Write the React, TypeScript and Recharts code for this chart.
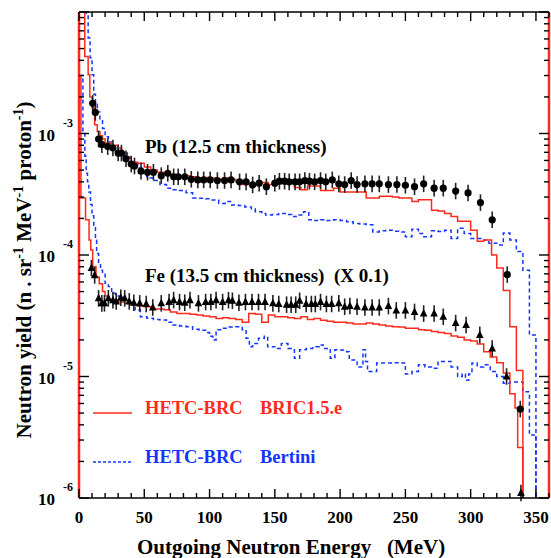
import { ComposedChart, Line, Scatter, XAxis, YAxis, ErrorBar, ReferenceLine } from 'recharts'

const RED = '#ff2a1c'
const BLUE = '#1434ff'
const FONT = '"Liberation Serif", "Times New Roman", serif'

// axis ticks
const xTicks = [0, 10, 20, 30, 40, 50, 60, 70, 80, 90, 100, 110, 120, 130, 140, 150, 160, 170, 180, 190,
  200, 210, 220, 230, 240, 250, 260, 270, 280, 290, 300, 310, 320, 330, 340, 350, 360]
const yTicks = [
  1e-6, 2e-6, 3e-6, 4e-6, 5e-6, 6e-6, 7e-6, 8e-6, 9e-6,
  1e-5, 2e-5, 3e-5, 4e-5, 5e-5, 6e-5, 7e-5, 8e-5, 9e-5,
  1e-4, 2e-4, 3e-4, 4e-4, 5e-4, 6e-4, 7e-4, 8e-4, 9e-4,
  1e-3, 2e-3, 3e-3, 4e-3, 5e-3, 6e-3, 7e-3, 8e-3, 9e-3,
  1e-2,
]

// Pb measured (circles)
const pbE = [10.5, 12.5, 15, 17.5, 22, 26, 30, 32.5, 36, 40, 42.5, 47.5, 52.5, 57, 63, 68, 72.5, 76, 81, 86,
  91, 95.5, 100.5, 106, 111.5, 116.5, 123, 128, 133, 138, 143.5, 150, 153.5, 157.5, 161, 165.5, 169, 173, 176.5, 180.5,
  185, 189, 194, 199, 203.5, 208.5, 213, 219, 224.5, 230, 237, 243.5, 250, 257, 264, 272, 279, 288.5, 298, 307.5,
  316.5, 328, 338]
const pbV = [1.77e-3, 1.49e-3, 9.0e-4, 8.1e-4, 7.8e-4, 7.6e-4, 6.9e-4, 6.9e-4, 6.2e-4, 5.6e-4,
  5.4e-4, 4.9e-4, 4.8e-4, 4.8e-4, 4.5e-4, 4.7e-4, 4.4e-4, 4.4e-4, 4.4e-4, 4.2e-4,
  4.15e-4, 4.15e-4, 4.15e-4, 4.1e-4, 4.1e-4, 4.15e-4, 4.0e-4, 4.0e-4, 3.77e-4, 3.9e-4,
  3.65e-4, 3.9e-4, 4.05e-4, 4.05e-4, 4.0e-4, 4.0e-4, 4.0e-4, 4.1e-4, 4.05e-4, 4.0e-4,
  4.1e-4, 4.0e-4, 4.15e-4, 3.85e-4, 3.8e-4, 4.1e-4, 3.8e-4, 3.85e-4, 3.85e-4, 3.85e-4,
  3.8e-4, 3.8e-4, 3.75e-4, 3.65e-4, 3.85e-4, 3.55e-4, 3.55e-4, 3.36e-4, 3.24e-4, 2.7e-4,
  1.95e-4, 6.9e-5, 5.4e-6]

// Fe measured x 0.1 (triangles)
const feE = [9.5, 12, 15, 17.5, 19.5, 22.5, 26, 28.5, 32, 35, 38.5, 42, 46.5, 51.5, 56.5, 63, 69, 72.5, 77, 81,
  85, 91.5, 97, 101, 105, 110, 114.5, 117.5, 122.5, 127.5, 132.5, 137.5, 142.5, 148.5, 153, 159, 162.5, 166, 169, 174,
  178, 181, 185, 189.5, 193.5, 199, 203.5, 207.5, 213, 219, 224.5, 230, 237, 243, 250, 257, 264, 272, 279, 288.5,
  296.5, 307, 316.5, 327.5, 338.5]
const feV = [7.8e-5, 6.8e-5, 4.4e-5, 4.0e-5, 4.0e-5, 4.4e-5, 4.25e-5, 4.15e-5, 4.45e-5, 4.4e-5,
  4.15e-5, 4.05e-5, 4.0e-5, 3.95e-5, 3.7e-5, 4.0e-5, 4.1e-5, 4.25e-5, 4.1e-5, 4.05e-5,
  4.25e-5, 4.0e-5, 4.1e-5, 4.1e-5, 4.25e-5, 4.1e-5, 4.25e-5, 4.2e-5, 4.05e-5, 4.1e-5,
  4.1e-5, 4.1e-5, 4.1e-5, 4.0e-5, 3.95e-5, 3.9e-5, 3.9e-5, 3.9e-5, 4.2e-5, 3.95e-5,
  3.95e-5, 3.95e-5, 4.1e-5, 3.95e-5, 3.95e-5, 4.0e-5, 3.75e-5, 3.8e-5, 3.75e-5, 3.7e-5,
  3.7e-5, 3.7e-5, 3.8e-5, 3.5e-5, 3.5e-5, 3.4e-5, 3.3e-5, 3.3e-5, 3.1e-5, 2.75e-5,
  2.65e-5, 2.2e-5, 1.7e-5, 1.0e-5, 1.1e-6]

// HETC-BRC BRIC1.5.e histograms (bin low edge, content)
const pbBricE = [0, 4.4, 7, 8.3, 10, 12, 14, 16, 18, 20, 25, 30, 32.5, 35, 40, 45, 50, 55, 60, 65,
  70, 75, 80, 85, 90, 95, 100, 105, 110, 115, 120, 125, 130, 135, 140, 145, 150, 155, 160, 165,
  170, 175, 180, 185, 190, 195, 200, 205, 210, 215, 220, 225, 230, 235, 240, 245, 250, 255, 260, 265,
  270, 275, 280, 285, 290, 295, 300, 305, 310, 316, 320, 325, 330, 335, 340]
const pbBricV = [2e-2, 4.3e-3, 3.05e-3, 2.0e-3, 1.62e-3, 1.18e-3, 1.04e-3, 9.6e-4, 9.0e-4, 8.3e-4,
  8.0e-4, 7.6e-4, 6.9e-4, 6.4e-4, 5.8e-4, 5.7e-4, 5.3e-4, 5.0e-4, 4.8e-4, 4.7e-4,
  4.6e-4, 4.5e-4, 4.5e-4, 4.4e-4, 4.3e-4, 4.35e-4, 4.3e-4, 4.2e-4, 4.3e-4, 4.2e-4,
  4.0e-4, 3.8e-4, 3.9e-4, 3.85e-4, 3.95e-4, 3.8e-4, 3.95e-4, 4.05e-4, 3.9e-4, 3.6e-4,
  3.45e-4, 3.7e-4, 3.7e-4, 3.4e-4, 3.4e-4, 3.55e-4, 3.3e-4, 3.3e-4, 3.3e-4, 3.3e-4,
  2.95e-4, 2.95e-4, 3.05e-4, 3.05e-4, 3.0e-4, 2.95e-4, 2.95e-4, 2.75e-4, 2.85e-4, 2.85e-4,
  2.34e-4, 2.3e-4, 2.2e-4, 2.07e-4, 1.9e-4, 1.9e-4, 1.6e-4, 1.3e-4, 1.33e-4, 1.0e-4,
  7.8e-5, 5.1e-5, 2.57e-5, 1.12e-5, 1e-7]
const feBricE = [0, 1.5, 5, 7.7, 9, 10.5, 13, 15.5, 18, 20, 22.5, 25, 30, 35, 40, 45, 50, 55, 60, 65,
  70, 75, 80, 85, 90, 95, 100, 105, 110, 115, 120, 125, 130, 135, 140, 145, 150, 155, 160, 165,
  170, 175, 180, 185, 190, 195, 200, 205, 210, 215, 220, 225, 230, 235, 240, 245, 250, 255, 260, 265,
  270, 275, 280, 285, 290, 295, 300, 305, 310, 315, 320, 325, 330, 334, 336, 340]
const feBricV = [3e-3, 2.95e-4, 1.95e-4, 1.33e-4, 1.1e-4, 8e-5, 6.6e-5, 5.8e-5, 5.0e-5, 4.6e-5,
  4.3e-5, 4.26e-5, 4.1e-5, 4.0e-5, 3.9e-5, 3.8e-5, 3.75e-5, 3.6e-5, 3.6e-5, 3.55e-5,
  3.4e-5, 3.3e-5, 3.3e-5, 3.25e-5, 3.2e-5, 3.15e-5, 3.1e-5, 3.0e-5, 3.05e-5, 3.0e-5,
  2.95e-5, 2.8e-5, 3.3e-5, 3.25e-5, 2.8e-5, 3.2e-5, 3.1e-5, 3.1e-5, 3.05e-5, 3.0e-5,
  3.1e-5, 2.95e-5, 3.0e-5, 2.9e-5, 2.85e-5, 2.8e-5, 2.8e-5, 2.75e-5, 2.7e-5, 2.7e-5,
  2.75e-5, 2.7e-5, 2.65e-5, 2.6e-5, 2.57e-5, 2.55e-5, 2.5e-5, 2.5e-5, 2.43e-5, 2.4e-5,
  2.35e-5, 2.3e-5, 2.26e-5, 2.15e-5, 2.1e-5, 2.0e-5, 1.96e-5, 1.85e-5, 1.6e-5, 1.45e-5,
  1.3e-5, 1.07e-5, 7.2e-6, 5.5e-6, 2.6e-6, 1e-7]

// HETC-BRC Bertini histograms
const pbBertE = [0, 5.5, 7, 8.5, 10, 11.3, 12.6, 14, 16, 18, 20, 22.5, 25, 30, 33, 37, 40, 45, 48, 52,
  57, 62, 67, 72, 77, 82, 87, 92, 97, 102, 107, 112, 117, 122, 127, 132, 135, 140, 143, 148,
  153, 158, 163, 168, 172, 176, 180, 185, 190, 195, 200, 205, 210, 215, 220, 225, 230, 235, 240, 245,
  250, 255, 260, 264, 270, 275, 280, 285, 290, 295, 300, 305, 310, 314, 320, 325, 330, 335, 340, 345, 350]
const pbBertV = [2e-2, 9.5e-3, 6.1e-3, 4.2e-3, 3.05e-3, 2.1e-3, 1.74e-3, 1.5e-3, 1.3e-3, 1.1e-3,
  9.4e-4, 8.5e-4, 7.8e-4, 7.2e-4, 6.9e-4, 6.3e-4, 5.7e-4, 5.2e-4, 4.7e-4, 4.3e-4,
  4.1e-4, 3.8e-4, 3.55e-4, 3.45e-4, 3.4e-4, 3.25e-4, 2.95e-4, 2.93e-4, 2.9e-4, 2.84e-4,
  2.66e-4, 2.75e-4, 2.58e-4, 2.55e-4, 2.48e-4, 2.4e-4, 2.27e-4, 2.2e-4, 2.13e-4, 2.15e-4,
  2.2e-4, 2.15e-4, 2.07e-4, 2.13e-4, 2.27e-4, 1.95e-4, 1.92e-4, 1.95e-4, 1.92e-4, 1.95e-4,
  1.92e-4, 1.88e-4, 1.82e-4, 1.8e-4, 1.77e-4, 1.55e-4, 1.58e-4, 1.6e-4, 1.57e-4, 1.55e-4,
  1.41e-4, 1.63e-4, 1.5e-4, 1.41e-4, 1.58e-4, 1.56e-4, 1.6e-4, 1.37e-4, 1.66e-4, 1.5e-4,
  1.37e-4, 1.37e-4, 1.33e-4, 1.25e-4, 1.21e-4, 1.52e-4, 1.33e-4, 1.07e-4, 7.5e-5, 2.2e-5, 1e-7]
const feBertE = [0, 3, 4.5, 5.5, 6.5, 7.5, 8.8, 10, 11.3, 12.6, 13.5, 15, 16.5, 18, 20, 22.5, 25, 28, 31, 35,
  39, 43, 47, 52, 57, 62, 67, 72, 77, 82, 87, 92, 97, 100, 102.5, 105, 110, 115, 120, 125,
  128, 130.5, 133, 137.5, 142, 144.5, 150, 155, 160, 165, 169, 174, 179, 184, 187, 190, 192.5, 196, 200, 205,
  207, 213, 217.5, 219.5, 221, 228, 235, 240, 245, 250, 255, 260, 265, 270, 275, 285, 290, 293.5, 296, 298.5,
  301, 305, 310, 315, 320, 325, 330, 340, 345, 350]
const feBertV = [3e-3, 1.0e-3, 6.5e-4, 4.7e-4, 4.0e-4, 3.3e-4, 2.6e-4, 2.1e-4, 1.7e-4, 1.33e-4,
  1.03e-4, 8.5e-5, 7.5e-5, 7.1e-5, 5.85e-5, 5.5e-5, 4.84e-5, 4.6e-5, 4.54e-5, 4.2e-5,
  4.0e-5, 3.52e-5, 3.1e-5, 3.02e-5, 2.95e-5, 2.92e-5, 2.8e-5, 2.65e-5, 2.6e-5, 2.57e-5,
  2.45e-5, 2.4e-5, 2.3e-5, 2.14e-5, 2.0e-5, 2.43e-5, 2.5e-5, 2.55e-5, 2.57e-5, 2.43e-5,
  2.06e-5, 1.76e-5, 1.87e-5, 2.06e-5, 2.14e-5, 1.76e-5, 1.7e-5, 1.87e-5, 1.7e-5, 1.41e-5,
  1.66e-5, 1.7e-5, 1.76e-5, 1.82e-5, 1.7e-5, 1.66e-5, 1.41e-5, 1.66e-5, 1.65e-5, 1.6e-5,
  1.37e-5, 1.2e-5, 1.66e-5, 1.33e-5, 1.1e-5, 1.29e-5, 1.29e-5, 1.3e-5, 1.29e-5, 1.05e-5,
  1.1e-5, 1.25e-5, 1.2e-5, 1.17e-5, 1.33e-5, 1.2e-5, 1.0e-5, 1.05e-5, 9.3e-6, 1.05e-5,
  1.29e-5, 1.2e-5, 1.25e-5, 1.1e-5, 1.0e-5, 8.8e-6, 9.0e-6, 7.5e-6, 3.3e-6, 1e-7]

const REL_ERR = 1.17 // error bar half-width as a factor

const hist = (es: number[], vs: number[]) => es.map((e, i) => ({ e, v: vs[i] }))
const points = (es: number[], vs: number[]) =>
  es.map((e, i) => ({ e, v: vs[i], err: [vs[i] - vs[i] / REL_ERR, vs[i] * REL_ERR - vs[i]] }))

const isDecade = (v: number) => Math.abs(Math.log10(v) - Math.round(Math.log10(v))) < 1e-6

function BottomTick(props: any) {
  const { x, y, payload } = props
  const major = payload.value % 50 === 0
  return (
    <g>
      <line x1={x} x2={x} y1={y} y2={y - (major ? 9 : 5)} stroke="#000" strokeWidth={1.4} />
      {major && (
        <text x={x} y={y + 25} textAnchor="middle" fontFamily={FONT} fontWeight="bold" fontSize={17} fill="#000">
          {payload.value}
        </text>
      )}
    </g>
  )
}

function TopTick(props: any) {
  const { x, y, payload } = props
  const major = payload.value % 50 === 0
  return <line x1={x} x2={x} y1={y} y2={y + (major ? 9 : 5)} stroke="#000" strokeWidth={1.4} />
}

function LeftTick(props: any) {
  const { x, y, payload } = props
  const major = isDecade(payload.value)
  const exp = Math.round(Math.log10(payload.value))
  return (
    <g>
      <line x1={x} x2={x + (major ? 10 : 5)} y1={y} y2={y} stroke="#000" strokeWidth={1.4} />
      {major && exp < -2 && (
        <g fontFamily={FONT} fontWeight="bold" fill="#000">
          <text x={x - 24} y={y + 7} textAnchor="end" fontSize={17}>10</text>
          <text x={x - 16} y={y - 7} fontSize={12}>{exp}</text>
        </g>
      )}
    </g>
  )
}

function RightTick(props: any) {
  const { x, y, payload } = props
  const major = isDecade(payload.value)
  return <line x1={x} x2={x - (major ? 10 : 5)} y1={y} y2={y} stroke="#000" strokeWidth={1.4} />
}

const circle = (p: any) => <circle cx={p.cx} cy={p.cy} r={3.6} fill="#000" />
const triangle = (p: any) => (
  <polygon points={`${p.cx},${p.cy - 4.5} ${p.cx - 3.8},${p.cy + 3} ${p.cx + 3.8},${p.cy + 3}`} fill="#000" />
)

const textStyle = {
  position: 'absolute' as const,
  fontFamily: FONT,
  fontWeight: 'bold' as const,
  whiteSpace: 'pre' as const,
  lineHeight: '20px',
}

export default function App() {
  const line = { type: 'stepAfter' as const, dataKey: 'v', dot: false, isAnimationActive: false, strokeWidth: 1.5 }
  return (
    <div style={{ position: 'absolute', left: 0, top: 0, width: 551, height: 558, background: '#fff' }}>
      <ComposedChart width={551} height={558} margin={{ top: 11, right: 1, bottom: 0, left: 0 }}>
        <XAxis type="number" dataKey="e" domain={[0, 360]} ticks={xTicks} interval={0} allowDataOverflow
          tickSize={0} tickMargin={0} tick={<BottomTick />} height={60}
          axisLine={{ stroke: '#000', strokeWidth: 1.5 }} />
        <XAxis xAxisId="top" orientation="top" type="number" dataKey="e" domain={[0, 360]} ticks={xTicks}
          interval={0} allowDataOverflow tickSize={0} tickMargin={0} tick={<TopTick />} height={1}
          axisLine={{ stroke: '#000', strokeWidth: 1.5 }} />
        <YAxis type="number" dataKey="v" scale="log" domain={[1e-6, 1e-2]} allowDataOverflow ticks={yTicks}
          interval={0} tickSize={0} tickMargin={0} tick={<LeftTick />} width={79}
          axisLine={{ stroke: RED, strokeWidth: 2.5 }} />
        <YAxis yAxisId="right" orientation="right" type="number" dataKey="v" scale="log" domain={[1e-6, 1e-2]}
          allowDataOverflow ticks={yTicks} interval={0} tickSize={0} tickMargin={0}
          tick={<RightTick />} width={1} axisLine={{ stroke: RED, strokeWidth: 2.5 }} />
        <ReferenceLine x={0} stroke={BLUE} strokeWidth={1.5} strokeDasharray="4 3" />
        <ReferenceLine x={360} stroke={BLUE} strokeWidth={1.5} strokeDasharray="4 3" />

        <Line {...line} data={hist(pbBertE, pbBertV)} stroke={BLUE} strokeDasharray="4 3" />
        {/* same domains as the main axes; drawn on the top/right pair so that frame renders */}
        <Line {...line} data={hist(feBertE, feBertV)} stroke={BLUE} strokeDasharray="4 3"
          xAxisId="top" yAxisId="right" />
        <Line {...line} data={hist(pbBricE, pbBricV)} stroke={RED} />
        <Line {...line} data={hist(feBricE, feBricV)} stroke={RED} />

        <Scatter data={points(pbE, pbV)} dataKey="v" shape={circle} isAnimationActive={false}>
          <ErrorBar dataKey="err" direction="y" width={0} stroke="#222" strokeWidth={1.6} />
        </Scatter>
        <Scatter data={points(feE, feV)} dataKey="v" shape={triangle} isAnimationActive={false}>
          <ErrorBar dataKey="err" direction="y" width={0} stroke="#222" strokeWidth={1.6} />
        </Scatter>
      </ComposedChart>

      <div style={{ ...textStyle, left: 145, top: 137, fontSize: 19 }}>Pb (12.5 cm thickness)</div>
      <div style={{ ...textStyle, left: 145, top: 266, fontSize: 19 }}>{'Fe (13.5 cm thickness)  (X 0.1)'}</div>

      <svg style={{ position: 'absolute', left: 0, top: 0 }} width={551} height={558}>
        <line x1={93} x2={132} y1={413} y2={413} stroke={RED} strokeWidth={1.5} />
        <line x1={93} x2={132} y1={462} y2={462} stroke={BLUE} strokeWidth={1.5} strokeDasharray="3 2" />
      </svg>
      <div style={{ ...textStyle, left: 145, top: 398, fontSize: 18.5, color: RED }}>HETC-BRC</div>
      <div style={{ ...textStyle, left: 260, top: 398, fontSize: 18.5, color: RED }}>BRIC1.5.e</div>
      <div style={{ ...textStyle, left: 145, top: 447, fontSize: 18.5, color: BLUE }}>HETC-BRC</div>
      <div style={{ ...textStyle, left: 260, top: 447, fontSize: 18.5, color: BLUE }}>Bertini</div>

      <div style={{ ...textStyle, left: 137, top: 537, fontSize: 21 }}>{'Outgoing Neutron Energy   (MeV)'}</div>
      <div style={{
        ...textStyle, left: 21, top: 270, fontSize: 21,
        transform: 'translate(-50%, -50%) rotate(-90deg)',
      }}>
        Neutron yield (n . sr<sup style={{ fontSize: 14 }}>-1</sup> MeV<sup style={{ fontSize: 14 }}>-1</sup> proton<sup style={{ fontSize: 14 }}>-1</sup>)
      </div>
    </div>
  )
}
